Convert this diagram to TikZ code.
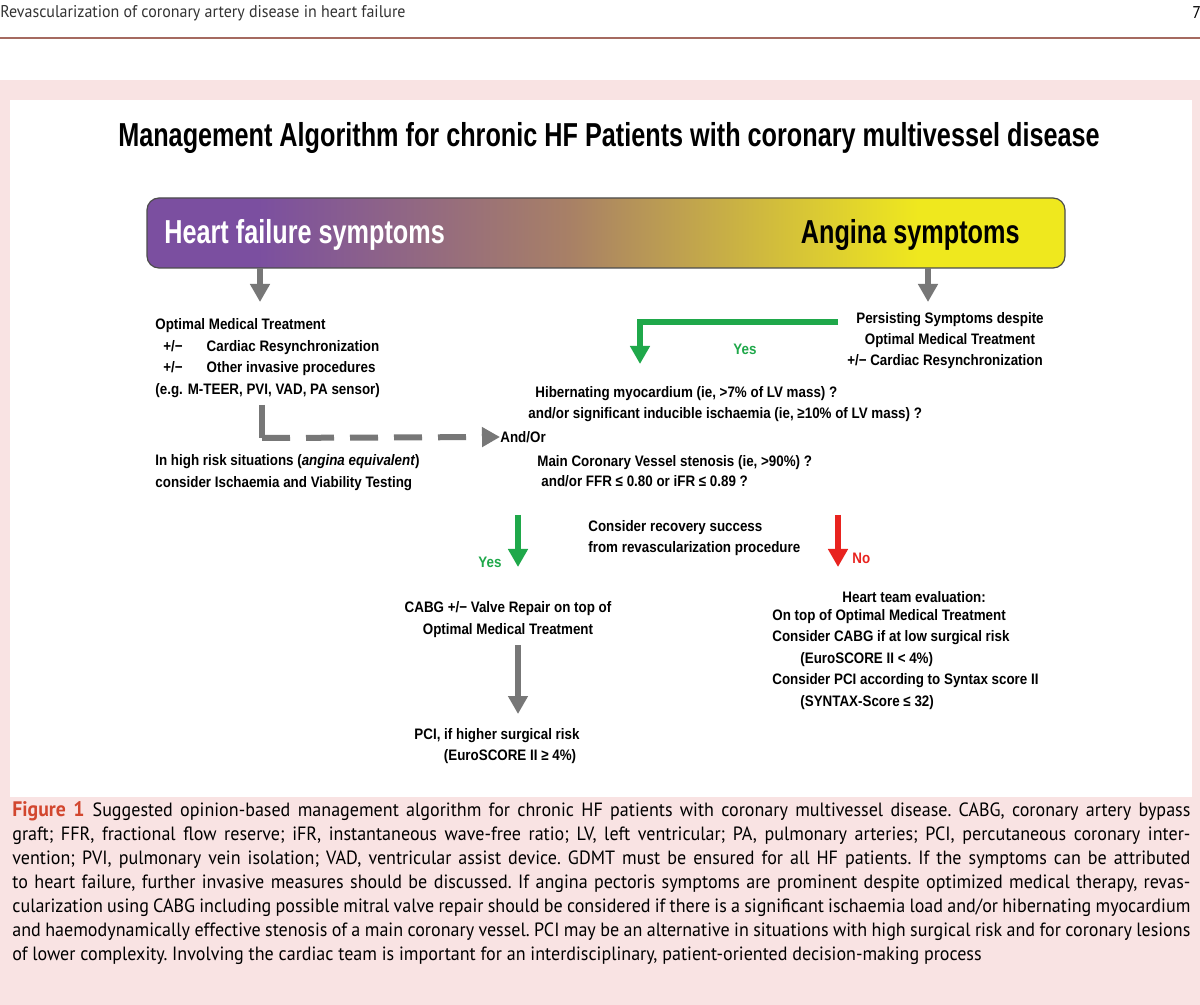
\documentclass[tikz,border=0pt]{standalone}
\usepackage{fontspec}
\setmainfont{Liberation Sans}
\newfontfamily\cond{Liberation Sans}[FakeStretch=0.88]
\newfontfamily\tcond{Liberation Sans}[FakeStretch=0.76]
\newfontfamily\capf{PT Sans}[FakeStretch=0.94]
\usetikzlibrary{arrows.meta}
\definecolor{pinkbg}{HTML}{F9E3E3}
\definecolor{hfpurple}{HTML}{7B4FA0}
\definecolor{angyel}{HTML}{EFE81E}
\definecolor{midbrown}{HTML}{A88066}
\definecolor{ggreen}{HTML}{1FA84A}
\definecolor{rred}{HTML}{E8231F}
\definecolor{agray}{HTML}{777777}
\definecolor{figred}{HTML}{D2462E}
\pgfdeclarehorizontalshading{hfshade}{100bp}{color(0bp)=(hfpurple); color(31bp)=(hfpurple); color(48bp)=(midbrown); color(67bp)=(angyel); color(100bp)=(angyel)}
\tikzset{
 txt/.style={font=\cond\fontsize{7.6}{9}\selectfont\bfseries, inner sep=0pt, anchor=west},
 ctxt/.style={font=\cond\fontsize{7.6}{9}\selectfont\bfseries, inner sep=0pt, anchor=center},
 big/.style={font=\tcond\fontsize{16.6}{18}\selectfont\bfseries, inner sep=0pt},
 arr/.style={line width=3pt, -{Triangle[width=9.5pt,length=9pt]}},
 grayarr/.style={arr, agray},
 greenarr/.style={arr, ggreen},
 redarr/.style={arr, rred},
}
\begin{document}
\begin{tikzpicture}[x=0.5pt,y=-0.5pt]
\useasboundingbox (0,0) rectangle (1200,1005);
\fill[white] (0,0) rectangle (1200,1005);
% header
\node[font=\capf\fontsize{8.5}{10}\selectfont, text=black!80, anchor=west, inner sep=0pt] (hdr) at (0,13) {Revascularization of coronary artery disease in heart failure};
\node[font=\capf\fontsize{8.5}{10}\selectfont, anchor=west, inner sep=0pt] (pg) at (1192,13) {7};
\draw[color=figred!60!black!70, line width=0.6pt] (0,38) -- (1200,38);
% panel
\fill[pinkbg] (0,80) rectangle (1200,1005);
\fill[white] (10,100) rectangle (1192,797);
% title
\node[big] (title) at (609,138) {Management Algorithm for chronic HF Patients with coronary multivessel disease};
% bar
\shade[shading=hfshade, rounded corners=6pt] (147,198) rectangle (1065,268);
\draw[black!70, line width=0.6pt, rounded corners=6pt] (147,198) rectangle (1065,268);
\node[big, text=white, anchor=west] (hf) at (164,235) {Heart failure symptoms};
\node[big, anchor=east] (ang) at (1020,235) {Angina symptoms};
\coordinate (hfb) at (260,268);
\coordinate (angb) at (928,268);
% left block
\node[txt] (l1) at (155,326) {Optimal Medical Treatment};
\node[txt] (l2) at (163,348) {+/−\hspace{12pt}Cardiac Resynchronization};
\node[txt] (l3) at (163,369) {+/−\hspace{12pt}Other invasive procedures};
\node[txt] (l4) at (155,391) {(e.g. M-TEER, PVI, VAD, PA sensor)};
\draw[grayarr] (hfb) -- (260,302);
\node[txt] (hr1) at (155,462) {In high risk situations (\textit{angina equivalent})};
\node[txt] (hr2) at (155,484) {consider Ischaemia and Viability Testing};
\node[txt] (andor) at (500,437) {And/Or};
\coordinate (dstart) at (262,405);
\coordinate (dcorner) at (262,438);
\draw[agray, line width=3pt] (dstart) -- (dcorner);
\draw[agray, line width=3pt, dash pattern=on 14pt off 8pt, -{Triangle[width=9.5pt,length=9pt]}] (dcorner) -- (andor.west);
% right top
\node[ctxt] (p1) at (950,320) {Persisting Symptoms despite};
\node[ctxt] (p2) at (950,341) {Optimal Medical Treatment};
\node[ctxt] (p3) at (945,362) {+/− Cardiac Resynchronization};
\draw[grayarr] (angb) -- (928,302);
\coordinate (gs) at (838,322);
\coordinate (gc) at (640,322);
\coordinate (ge) at (640,364);
\draw[greenarr] (gs) -- (gc) -- (ge);
\node[ctxt, text=ggreen] (yes1) at (745,349) {Yes};
% middle criteria
\node[txt] (h1) at (535,394) {Hibernating myocardium (ie, {>}7\% of LV mass) ?};
\node[txt] (h2) at (528,415) {and/or significant inducible ischaemia (ie, ≥10\% of LV mass) ?};
\node[txt] (m1) at (537,463) {Main Coronary Vessel stenosis (ie, {>}90\%) ?};
\node[txt] (m2) at (541,481) {and/or FFR ≤ 0.80 or iFR ≤ 0.89 ?};
\node[txt] (c1) at (588,528) {Consider recovery success};
\node[txt] (c2) at (588,549) {from revascularization procedure};
\coordinate (ys) at (518,515);
\coordinate (ye) at (518,567);
\draw[greenarr] (ys) -- (ye);
\node[ctxt, text=ggreen] (yes2) at (490,562) {Yes};
\coordinate (ns) at (838,515);
\coordinate (ne) at (838,567);
\draw[redarr] (ns) -- (ne);
\node[txt, text=rred] (no) at (852,558) {No};
% CABG
\node[ctxt] (cb1) at (508,609) {CABG +/− Valve Repair on top of};
\node[ctxt] (cb2) at (508,631) {Optimal Medical Treatment};
\coordinate (ps) at (518,645);
\coordinate (pe) at (518,714);
\draw[grayarr] (ps) -- (pe);
\node[ctxt] (pci1) at (497,736) {PCI, if higher surgical risk};
\node[ctxt] (pci2) at (510,757) {(EuroSCORE II ≥ 4\%)};
% heart team
\node[txt] (t1) at (842,597) {Heart team evaluation:};
\node[txt] (t2) at (772,617) {On top of Optimal Medical Treatment};
\node[txt] (t3) at (772,638) {Consider CABG if at low surgical risk};
\node[txt] (t4) at (800,660) {(EuroSCORE II {<} 4\%)};
\node[txt] (t5) at (772,681) {Consider PCI according to Syntax score II};
\node[txt] (t6) at (800,703) {(SYNTAX-Score ≤ 32)};
% caption
\node[anchor=north west, inner sep=0pt, text width=589pt, font=\capf\fontsize{9.6}{12}\selectfont, align=justify] (cap) at (12,801) {\frenchspacing{\bfseries\color{figred}\fontsize{10.5}{12}\selectfont Figure 1}\hspace{4pt}Suggested opinion-based management algorithm for chronic HF patients with coronary multivessel disease. CABG, coronary artery bypass\linebreak graft; FFR, fractional flow reserve; iFR, instantaneous wave-free ratio; LV, left ventricular; PA, pulmonary arteries; PCI, percutaneous coronary inter-\linebreak vention; PVI, pulmonary vein isolation; VAD, ventricular assist device. GDMT must be ensured for all HF patients. If the symptoms can be attributed\linebreak to heart failure, further invasive measures should be discussed. If angina pectoris symptoms are prominent despite optimized medical therapy, revas-\linebreak cularization using CABG including possible mitral valve repair should be considered if there is a significant ischaemia load and/or hibernating myocardium\linebreak and haemodynamically effective stenosis of a main coronary vessel. PCI may be an alternative in situations with high surgical risk and for coronary lesions\linebreak of lower complexity. Involving the cardiac team is important for an interdisciplinary, patient-oriented decision-making process};
\end{tikzpicture}
\end{document}
